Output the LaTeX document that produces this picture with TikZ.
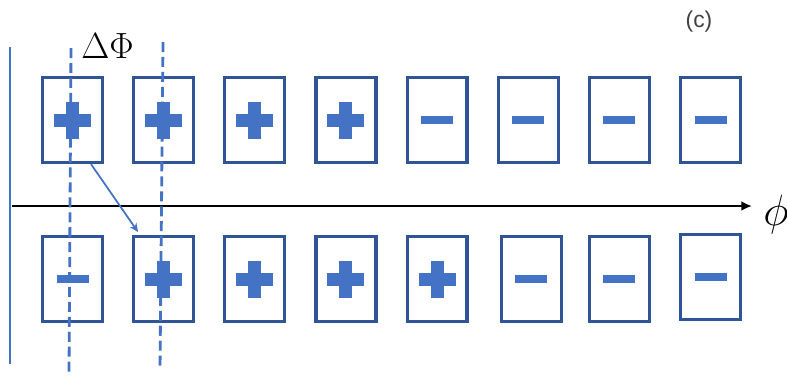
\documentclass[tikz,border=0pt]{standalone}
\usepackage[no-math]{fontspec}
\newfontfamily\tagfont{Liberation Sans}
\usetikzlibrary{arrows.meta, positioning}
\definecolor{cardedge}{HTML}{2F5597}
\definecolor{signfill}{HTML}{4472C4}
\definecolor{tagtext}{HTML}{404040}

\begin{document}
\begin{tikzpicture}[
  x=0.02cm, y=-0.02cm, node distance=0.56cm,
  card/.style={rectangle, draw=cardedge, line width=1.8pt, inner sep=0pt,
               minimum width=1.2cm, minimum height=1.7cm},
  plus card/.style={card, path picture={
      \fill[signfill] ([shift={(-18.5,-6.5)}]path picture bounding box.center) rectangle ++(37,13);
      \fill[signfill] ([shift={(-6.5,-18.5)}]path picture bounding box.center) rectangle ++(13,37);}},
  minus card/.style={card, path picture={
      \fill[signfill] ([shift={(-16,-4)}]path picture bounding box.center) rectangle ++(32,8);}},
  guide/.style={signfill, line width=1.6pt, dash pattern=on 5.7pt off 2.8pt}
]
  \useasboundingbox (0,0) rectangle (787,376);

  % upper row
  \node[plus card] (top1) at (72.5,120) {};
  \node[plus card, right=of top1] (top2) {};
  \node[plus card, right=of top2] (top3) {};
  \node[plus card, right=of top3] (top4) {};
  \node[minus card, right=of top4] (top5) {};
  \node[minus card, right=of top5] (top6) {};
  \node[minus card, right=of top6] (top7) {};
  \node[minus card, right=of top7] (top8) {};

  % lower row
  \node[minus card, below=1.42cm of top1] (bot1) {};
  \node[plus card, right=of bot1] (bot2) {};
  \node[plus card, right=of bot2] (bot3) {};
  \node[plus card, right=of bot3] (bot4) {};
  \node[plus card, right=of bot4] (bot5) {};
  \node[minus card, right=of bot5, xshift=0.06cm] (bot6) {};
  \node[minus card, right=of bot6, xshift=-0.06cm] (bot7) {};
  \node[minus card, right=of bot7, yshift=0.05cm] (bot8) {};

  % axis
  \coordinate (axisstart) at (12,206);
  \coordinate (axisend) at (752,206);
  \draw[black, line width=1.3pt, -{Latex[length=6pt, width=5.5pt]}] (axisstart) -- (axisend);
  \node[anchor=base, inner sep=0pt, font=\fontsize{28}{30}\selectfont] (philabel) at (776,225) {$\phi$};

  % left border and phase guides
  \draw[signfill, line width=1.1pt] (10,47) -- (10,364);
  \draw[guide] (71,48) -- (69,376);
  \draw[guide] (163,42) -- (160,370);
  \node[inner sep=0pt, font=\fontsize{20.5}{24}\selectfont] (shift) at (107.5,46.5) {$\Delta\Phi$};

  \draw[signfill, line width=1pt, -{Stealth[length=5pt, width=4.5pt]}]
    ([xshift=0.37cm]top1.south) -- ([shift={(0.12cm,0.06cm)}]bot2.north west);

  \node[inner sep=0pt, text=tagtext, font=\tagfont\fontsize{13}{15}\selectfont] (tag) at (699,22) {(c)};
\end{tikzpicture}
\end{document}
